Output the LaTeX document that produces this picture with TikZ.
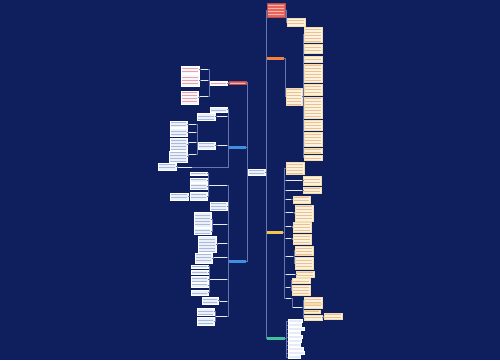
\documentclass[tikz,border=0pt]{standalone}
\usetikzlibrary{patterns}
\definecolor{bg}{HTML}{0F1F5E}
\definecolor{linkc}{HTML}{6676B0}
\definecolor{beigef}{HTML}{FCF3DC}
\definecolor{beiged}{HTML}{F2DDB0}
\definecolor{beiget}{HTML}{EDBE98}
\definecolor{lbf}{HTML}{ECF1F9}
\definecolor{lbt}{HTML}{A9BBDD}
\definecolor{pinkt}{HTML}{EE9FAA}
\definecolor{redn}{HTML}{E8625E}
\definecolor{redt}{HTML}{F6B4AA}
\definecolor{orn}{HTML}{F0823E}
\definecolor{yeln}{HTML}{F2C64C}
\definecolor{grn}{HTML}{3FC29A}
\definecolor{blun}{HTML}{3F8FE0}
\definecolor{barc}{HTML}{E6ECF7}
\newcommand\Bx[6]{\node[#6, anchor=north west, minimum width={(#4-(#2))*1pt}, minimum height={(#5-(#3))*1pt}] (#1) at (#2,#3) {};}
\newcommand\rcon[2]{\draw[link] (#1.east) -- ++(1,0) |- (#2.west);}
\newcommand\lcon[2]{\draw[link] (#1.west) -- ++(-1,0) |- (#2.east);}
\tikzset{
  base/.style={inner sep=0pt, outer sep=0pt, rectangle},
  tlines/.style={path picture={\fill[pattern=horizontal lines, pattern color=#1]
     ([xshift=1.2pt,yshift=-1pt]path picture bounding box.north west) rectangle
     ([xshift=-1.2pt,yshift=1pt]path picture bounding box.south east);}},
  beige/.style={base, fill=beigef, draw=beiged, line width=0.3pt, tlines=beiget},
  lbox/.style={base, fill=lbf, draw=white, line width=0.3pt, tlines=lbt},
  pbox/.style={base, fill=lbf!60!white, draw=white, line width=0.3pt, tlines=pinkt},
  wbox/.style={base, fill=barc, draw=white, line width=0.2pt},
  bar/.style={base, fill=barc},
  cnode/.style={base, fill=lbf, draw=white, line width=0.4pt, tlines=lbt},
  rednode/.style={base, fill=redn, draw=redn!80!black, line width=0.3pt, tlines=redt},
  ornode/.style={base, fill=orn},
  yelnode/.style={base, fill=yeln},
  grnode/.style={base, fill=grn},
  blunode/.style={base, fill=blun},
  link/.style={draw=linkc, line width=0.35pt},
}
\begin{document}
\begin{tikzpicture}[x=1pt,y=-1pt]
\fill[bg] (0,0) rectangle (500,360);
\useasboundingbox (0,0) rectangle (500,360);
% central
\Bx{C}{248}{169}{265}{175}{cnode}
% right level 1
\Bx{R1}{267}{3}{285}{17}{rednode}
\Bx{R2}{267}{57}{284}{60}{ornode}
\Bx{R3}{266}{231}{283}{234}{yelnode}
\Bx{R4}{267}{337}{285}{340}{grnode}
% left level 1
\Bx{L1}{229}{81}{246}{84}{rednode}
\Bx{L2}{229}{146}{246}{149}{blunode}
\Bx{L3}{229}{260}{246}{263}{blunode}
% red right
\Bx{R1a}{287}{18}{305}{26}{beige}
% orange
\Bx{R2a}{286}{88}{302}{105}{beige}
\Bx{c1}{304}{27}{322}{42}{beige}
\Bx{c2}{304}{44}{322}{53}{beige}
\Bx{c3}{304}{56}{322}{62}{beige}
\Bx{c4}{304}{64}{322}{82}{beige}
\Bx{c5}{304}{84}{322}{95}{beige}
\Bx{c6}{304}{97}{322}{118}{beige}
\Bx{c7}{304}{120}{322}{130}{beige}
\Bx{c8}{304}{132}{322}{146}{beige}
\Bx{c9}{304}{148}{322}{153}{beige}
\Bx{c10}{304}{155}{322}{160}{beige}
% yellow
\Bx{Y1}{286}{162}{304}{174}{beige}
\Bx{Y2}{286}{179.5}{302}{181}{bar}
\Bx{Y2a}{303}{176}{321}{185}{beige}
\Bx{Y3}{286}{189.5}{302}{191}{bar}
\Bx{Y3a}{303}{187}{321}{193}{beige}
\Bx{Y4}{286}{198.5}{291}{200}{bar}
\Bx{Y4a}{293}{196}{310}{203}{beige}
\Bx{Y5}{286}{211.5}{293}{213}{bar}
\Bx{Y5a}{295}{205}{313}{221}{beige}
\Bx{Y6}{286}{225.5}{291}{227}{bar}
\Bx{Y6a}{293}{222}{311}{232}{beige}
\Bx{Y7}{286}{237.5}{291}{239}{bar}
\Bx{Y7a}{293}{234}{311}{244}{beige}
\Bx{Y8}{286}{255.5}{293}{257}{bar}
\Bx{Y8a}{295}{246}{313}{255}{beige}
\Bx{Y8b}{295}{257}{313}{269}{beige}
\Bx{Y9}{286}{273.5}{295}{275}{bar}
\Bx{Y9a}{296}{271}{314}{277}{beige}
\Bx{Y10}{286}{286.5}{290}{288}{bar}
\Bx{Y10a}{292}{278}{310}{283}{beige}
\Bx{Y10b}{292}{285}{310}{295}{beige}
\Bx{Y11}{286}{297.5}{291}{299}{bar}
\Bx{Y11b}{293}{306.5}{302}{308}{bar}
\Bx{Y11c}{304}{297}{322}{303}{beige}
\Bx{Y11d}{304}{304}{322}{308}{beige}
\Bx{Y11e}{304}{310}{320}{313}{beige}
\Bx{Y11f}{304}{315}{322}{320}{beige}
\Bx{Y11g}{324}{313}{342}{319}{beige}
% green
\Bx{G1}{288}{319.5}{302}{322}{wbox}
\Bx{G2}{288}{323.5}{301}{326}{wbox}
\Bx{G3}{288}{327.5}{304}{330}{wbox}
\Bx{G4}{288}{331.5}{300}{334}{wbox}
\Bx{G5}{288}{335.5}{302}{338}{wbox}
\Bx{G6}{288}{339.5}{301}{342}{wbox}
\Bx{G7}{288}{343.5}{300}{346}{wbox}
\Bx{G8}{288}{347.5}{303}{350}{wbox}
\Bx{G9}{288}{351.5}{304}{354}{wbox}
\Bx{G10}{288}{355.5}{300}{358}{wbox}
% left red
\Bx{L1a}{210}{81}{227}{85}{pbox}
\Bx{La1}{201}{68.5}{208}{70}{bar}
\Bx{La1a}{181}{66}{199}{73}{pbox}
\Bx{La2}{201}{79.5}{208}{81}{bar}
\Bx{La2a}{181}{74}{199}{86}{pbox}
\Bx{La3}{200}{95.5}{208}{97}{bar}
\Bx{La3a}{181}{91}{198}{104}{pbox}
% left blue 1
\Bx{Lb1}{210}{107}{227}{112}{lbox}
\Bx{Lb2}{217}{115.5}{227}{117}{bar}
\Bx{Lb2a}{197}{113}{215}{120}{lbox}
\Bx{Lb3}{218}{144.5}{227}{146}{bar}
\Bx{Lb3a}{198}{142}{215}{149}{lbox}
\Bx{Lt1}{189}{123.5}{196}{125}{bar}
\Bx{Lt1a}{170}{121}{187}{127}{lbox}
\Bx{Lt2}{189}{131.5}{196}{133}{bar}
\Bx{Lt2a}{170}{128}{187}{136}{lbox}
\Bx{Lt3}{189}{141.5}{196}{143}{bar}
\Bx{Lt3a}{170}{138}{187}{150}{lbox}
\Bx{Lt4}{189}{153.5}{196}{155}{bar}
\Bx{Lt4a}{169}{151}{187}{162}{lbox}
\Bx{Lb4}{178}{166.5}{192}{168}{bar}
\Bx{Lb4a}{158}{163}{176}{170}{lbox}
% left blue 2
\Bx{Lc1}{209}{184.5}{227}{186}{bar}
\Bx{Lc1a}{190}{172}{207}{175}{lbox}
\Bx{Lc1b}{190}{178}{207}{182}{lbox}
\Bx{Lc1c}{190}{183.5}{207}{189}{lbox}
\Bx{Lc1d}{190}{192}{207}{200}{lbox}
\Bx{Lc1e}{170}{193}{188}{200}{lbox}
\Bx{Lc2}{210}{202}{227}{210}{lbox}
\Bx{Lc3}{213}{223.5}{227}{225}{bar}
\Bx{Lc3a}{194}{212}{211}{227}{lbox}
\Bx{Lc3b}{194}{228}{211}{234}{lbox}
\Bx{Lc4}{218}{242.5}{227}{244}{bar}
\Bx{Lc4a}{198}{236}{216}{252}{lbox}
\Bx{Lc5}{214}{256.5}{227}{258}{bar}
\Bx{Lc5a}{195}{253}{212}{263}{lbox}
\Bx{Lc6}{210}{278.5}{227}{280}{bar}
\Bx{Lc6a}{191}{265}{208}{268}{lbox}
\Bx{Lc6b}{191}{270}{208}{274}{lbox}
\Bx{Lc6c}{191}{276}{208}{282}{lbox}
\Bx{Lc6d}{191}{283.5}{208}{287.5}{lbox}
\Bx{Lc6e}{191}{290}{208}{295}{lbox}
\Bx{Lc7}{220}{300.5}{227}{302}{bar}
\Bx{Lc7a}{202}{297}{218}{304}{lbox}
\Bx{Lc8}{216}{315.5}{227}{317}{bar}
\Bx{Lc8a}{197}{308}{214}{315}{lbox}
\Bx{Lc8b}{197}{317}{214}{325}{lbox}
% connectors
\foreach \n in {R1,R2,R3,R4}{\draw[link] (C.east) -- ++(1,0) |- (\n.west);}
\foreach \n in {L1,L2,L3}{\draw[link] (C.west) -- ++(-1,0) |- (\n.east);}
\rcon{R1}{R1a}
\rcon{R2}{R2a}
\foreach \n in {c1,c2,c3,c4,c5,c6,c7,c8,c9,c10}{\rcon{R2a}{\n}}
\rcon{R3}{Y1}
\foreach \n in {Y2,Y3,Y4,Y5,Y6,Y7,Y8,Y9,Y10,Y11}{\rcon{R3}{\n}}
\rcon{Y2}{Y2a}\rcon{Y3}{Y3a}\rcon{Y4}{Y4a}\rcon{Y5}{Y5a}\rcon{Y6}{Y6a}\rcon{Y7}{Y7a}
\rcon{Y8}{Y8a}\rcon{Y8}{Y8b}\rcon{Y9}{Y9a}\rcon{Y10}{Y10a}\rcon{Y10}{Y10b}
\rcon{Y11}{Y11b}
\foreach \n in {Y11c,Y11d,Y11e,Y11f}{\rcon{Y11b}{\n}}
\rcon{Y11f}{Y11g}
\foreach \n in {G1,G2,G3,G4,G5,G6,G7,G8,G9,G10}{\rcon{R4}{\n}}
\lcon{L1}{L1a}
\lcon{L1a}{La1}\lcon{L1a}{La2}\lcon{L1a}{La3}
\lcon{La1}{La1a}\lcon{La2}{La2a}\lcon{La3}{La3a}
\foreach \n in {Lb1,Lb2,Lb3,Lb4}{\lcon{L2}{\n}}
\lcon{Lb2}{Lb2a}\lcon{Lb3}{Lb3a}\lcon{Lb4}{Lb4a}
\foreach \n in {Lt1,Lt2,Lt3,Lt4}{\lcon{Lb3a}{\n}}
\lcon{Lt1}{Lt1a}\lcon{Lt2}{Lt2a}\lcon{Lt3}{Lt3a}\lcon{Lt4}{Lt4a}
\foreach \n in {Lc1,Lc2,Lc3,Lc4,Lc5,Lc6,Lc7,Lc8}{\lcon{L3}{\n}}
\foreach \n in {Lc1a,Lc1b,Lc1c,Lc1d}{\lcon{Lc1}{\n}}
\lcon{Lc1d}{Lc1e}
\lcon{Lc3}{Lc3a}\lcon{Lc3}{Lc3b}\lcon{Lc4}{Lc4a}\lcon{Lc5}{Lc5a}
\foreach \n in {Lc6a,Lc6b,Lc6c,Lc6d,Lc6e}{\lcon{Lc6}{\n}}
\lcon{Lc7}{Lc7a}\lcon{Lc8}{Lc8a}\lcon{Lc8}{Lc8b}
\end{tikzpicture}
\end{document}
